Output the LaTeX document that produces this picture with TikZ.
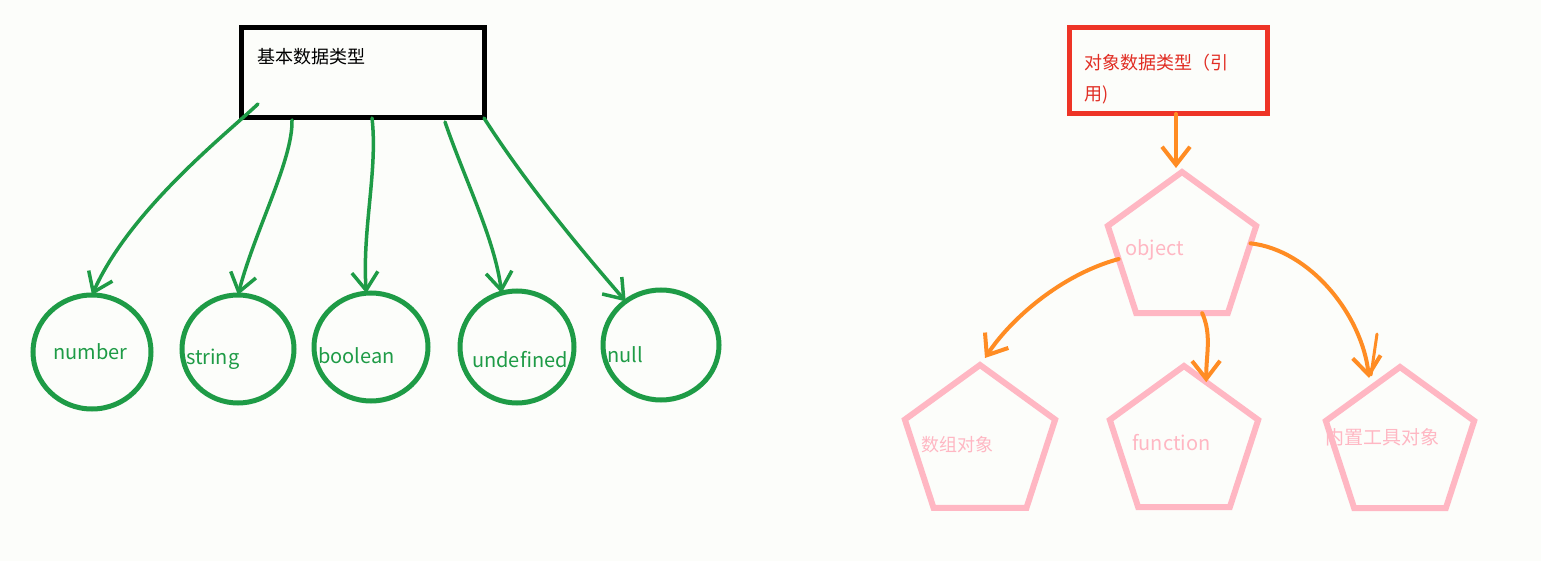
\documentclass[tikz,border=0pt]{standalone}
\usepackage{fontspec}
\setmainfont{Noto Sans CJK SC}
\usetikzlibrary{shapes.geometric,arrows.meta,calc}
\definecolor{bg}{RGB}{252,253,250}
\definecolor{grn}{RGB}{30,155,70}
\definecolor{pnk}{RGB}{255,183,195}
\definecolor{org}{RGB}{255,140,35}
\definecolor{redb}{RGB}{238,52,38}
\definecolor{redt}{RGB}{225,45,35}
\begin{document}
\begin{tikzpicture}[x=1pt,y=-1pt,
  circ/.style={draw=grn,line width=5pt,ellipse,inner sep=0pt,outer sep=0pt},
  pent/.style={draw=pnk,line width=6pt,regular polygon,regular polygon sides=5,inner sep=0pt,outer sep=0pt},
  boxk/.style={draw=black,line width=5pt,rectangle,inner sep=0pt,outer sep=0pt},
  boxr/.style={draw=redb,line width=5pt,rectangle,inner sep=0pt,outer sep=0pt},
  gline/.style={draw=grn,line width=3.5pt,line cap=round,line join=round,-{Straight Barb[length=18pt,width=26pt,line width=3.5pt]}},
  oline/.style={draw=org,line width=4pt,line cap=round,line join=round,-{Straight Barb[length=18pt,width=28pt,line width=4pt]}},
  lat/.style={inner sep=0pt,anchor=base west,font=\fontsize{20}{24}\selectfont},
  cjk/.style={inner sep=0pt,anchor=west,font=\fontsize{18}{22}\selectfont},
]
\fill[bg] (0,0) rectangle (1541,561);
\useasboundingbox (0,0) rectangle (1541,561);

% left part
\node[boxk,minimum width=243pt,minimum height=90pt] (basic) at (362.5,73) {};
\node[cjk] (basict) at (257,57) {基本数据类型};

\node[circ,minimum width=118pt,minimum height=114pt] (num) at (92,352) {};
\node[circ,minimum width=112pt,minimum height=108pt] (str) at (238,349) {};
\node[circ,minimum width=114pt,minimum height=108pt] (bool) at (371,347) {};
\node[circ,minimum width=114pt,minimum height=112pt] (undef) at (517,347) {};
\node[circ,minimum width=116pt,minimum height=110pt] (null) at (661,345) {};

\node[lat,text=grn] (numt) at (53,359) {number};
\node[lat,text=grn] (strt) at (186,364) {string};
\node[lat,text=grn] (boolt) at (318,363) {boolean};
\node[lat,text=grn] (undeft) at (472,367) {undefined};
\node[lat,text=grn] (nullt) at (607,362) {null};

\draw[gline] ($(basic.south west)+(17,-14)$) .. controls (225,135) and (130,210) .. (num.north);
\draw[gline] ($(basic.south west)+(51,2)$) .. controls (293,160) and (255,230) .. (str.north);
\draw[gline] ($(basic.south west)+(131,0)$) .. controls (378,170) and (362,230) .. (bool.95);
\draw[gline] ($(basic.south west)+(204,4)$) .. controls (465,180) and (495,240) .. (undef.106);
\draw[gline] (basic.south east) .. controls (530,190) and (590,260) .. (null.129);

% right part
\node[boxr,minimum width=198pt,minimum height=86pt] (ref) at (1168,71) {};
\node[cjk,text=redt] (reft1) at (1084,63) {对象数据类型（引};
\node[cjk,text=redt] (reft2) at (1084,95) {用)};

\node[pent,minimum size=156pt] (obj) at (1182,250) {};
\node[pent,minimum size=158pt] (arr) at (980,444) {};
\node[pent,minimum size=156pt] (fun) at (1184,444) {};
\node[pent,minimum size=156pt] (bi) at (1400,445) {};

\node[lat,text=pnk] (objt) at (1125,256) {object};
\node[cjk,text=pnk] (arrt) at (921,445) {数组对象};
\node[lat,text=pnk] (funt) at (1132,450) {function};
\node[cjk,text=pnk,font=\fontsize{19}{22}\selectfont] (bit) at (1325,437) {内置工具对象};

\draw[oline] ($(ref.south)+(8,0)$) -- ($(obj.corner 1)+(-6,-4)$);
\draw[oline] ($(obj.corner 2)!0.38!(obj.corner 3)$) .. controls (1060,275) and (1010,320) .. ($(arr.corner 1)+(5,-7)$);
\draw[oline] ($(obj.corner 3)!0.72!(obj.corner 4)$) .. controls (1212,335) and (1206,355) .. ($(fun.corner 1)!0.3!(fun.corner 5)$);
\draw[oline] ($(obj.corner 5)!0.2!(obj.corner 4)$) .. controls (1310,250) and (1362,315) .. ($(bi.corner 1)+(-31,11)$);
\draw[org,line width=3pt,line cap=round] ($(bi.corner 1)+(-23,-33)$) -- ($(bi.corner 1)+(-29,8)$);
\end{tikzpicture}
\end{document}
